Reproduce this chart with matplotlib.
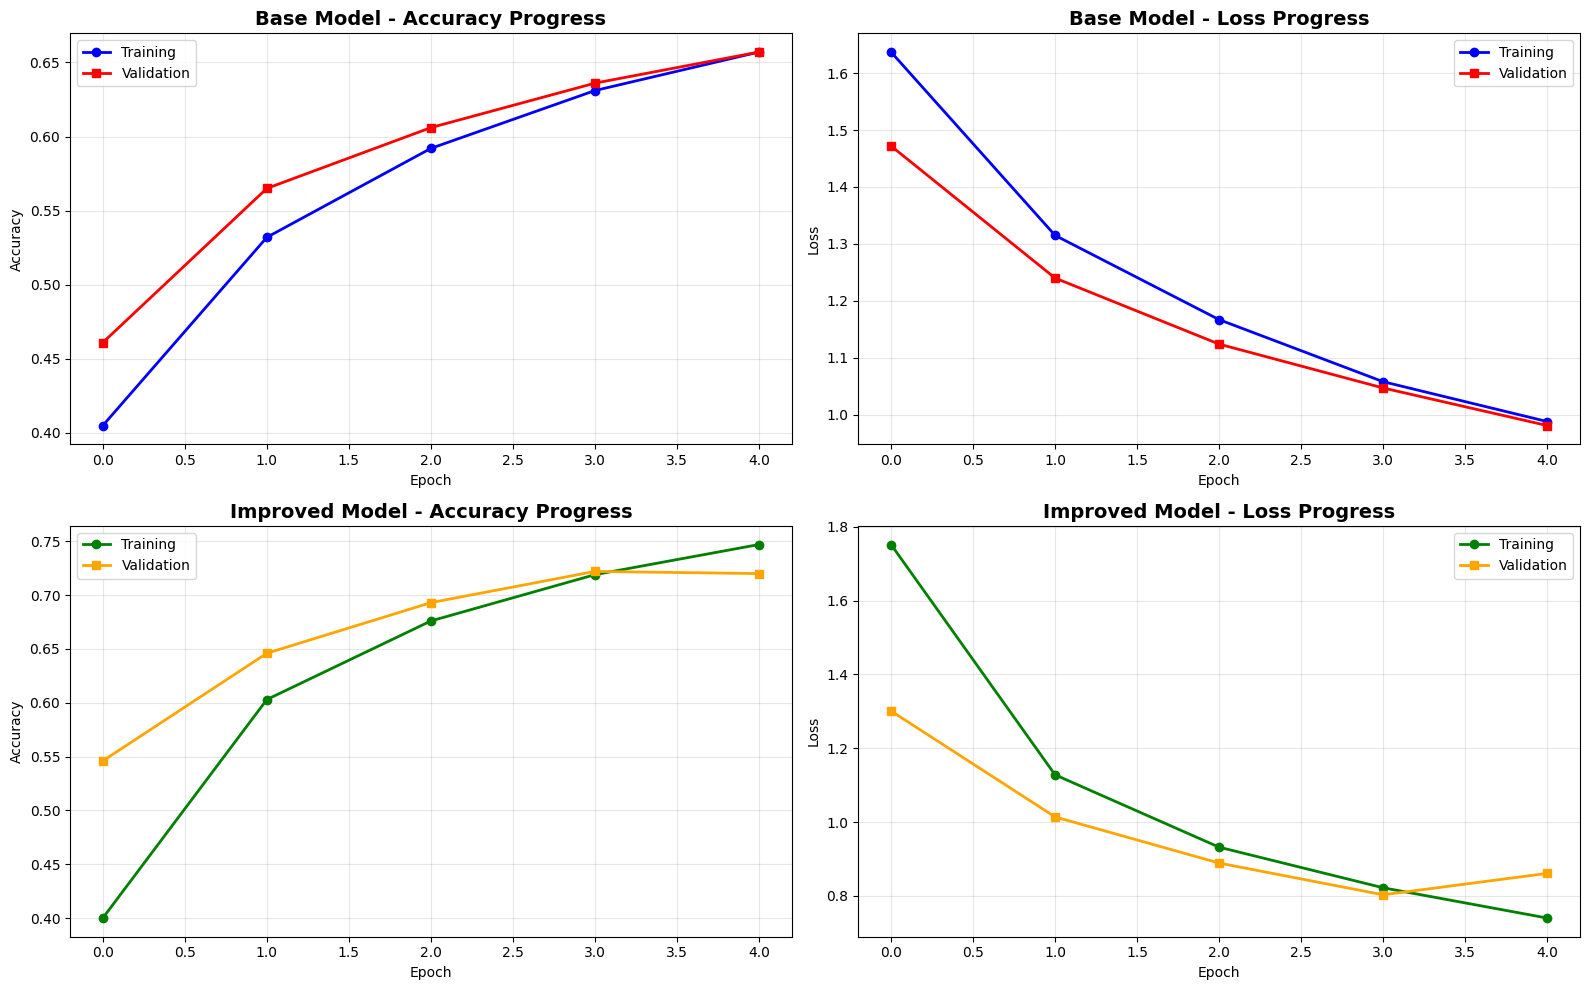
import numpy as np
import matplotlib
matplotlib.use('Agg')
import matplotlib.pyplot as plt

# values
epochs = [0, 1, 2, 3, 4]

base_train_acc = [0.405, 0.532, 0.592, 0.631, 0.657]
base_val_acc = [0.461, 0.565, 0.606, 0.636, 0.657]
base_train_loss = [1.637, 1.315, 1.167, 1.058, 0.988]
base_val_loss = [1.472, 1.240, 1.124, 1.047, 0.981]

imp_train_acc = [0.400, 0.603, 0.676, 0.719, 0.747]
imp_val_acc = [0.546, 0.646, 0.693, 0.722, 0.720]
imp_train_loss = [1.752, 1.128, 0.932, 0.822, 0.740]
imp_val_loss = [1.301, 1.014, 0.889, 0.803, 0.861]

fig, axes = plt.subplots(2, 2, figsize=(16, 10), dpi=100)


def draw(ax, train, val, c_train, c_val, title, ylabel, loc):
    ax.plot(epochs, train, marker='o', color=c_train, linewidth=2, label='Training')
    ax.plot(epochs, val, marker='s', color=c_val, linewidth=2, label='Validation')
    ax.set_title(title, fontsize=14, fontweight='bold')
    ax.set_xlabel('Epoch')
    ax.set_ylabel(ylabel)
    ax.legend(loc=loc)
    ax.grid(True, alpha=0.3)


draw(axes[0, 0], base_train_acc, base_val_acc, 'blue', 'red',
     'Base Model - Accuracy Progress', 'Accuracy', 'upper left')
draw(axes[0, 1], base_train_loss, base_val_loss, 'blue', 'red',
     'Base Model - Loss Progress', 'Loss', 'upper right')
draw(axes[1, 0], imp_train_acc, imp_val_acc, 'green', 'orange',
     'Improved Model - Accuracy Progress', 'Accuracy', 'upper left')
draw(axes[1, 1], imp_train_loss, imp_val_loss, 'green', 'orange',
     'Improved Model - Loss Progress', 'Loss', 'upper right')

plt.tight_layout()
plt.savefig('out.png', bbox_inches='tight')
